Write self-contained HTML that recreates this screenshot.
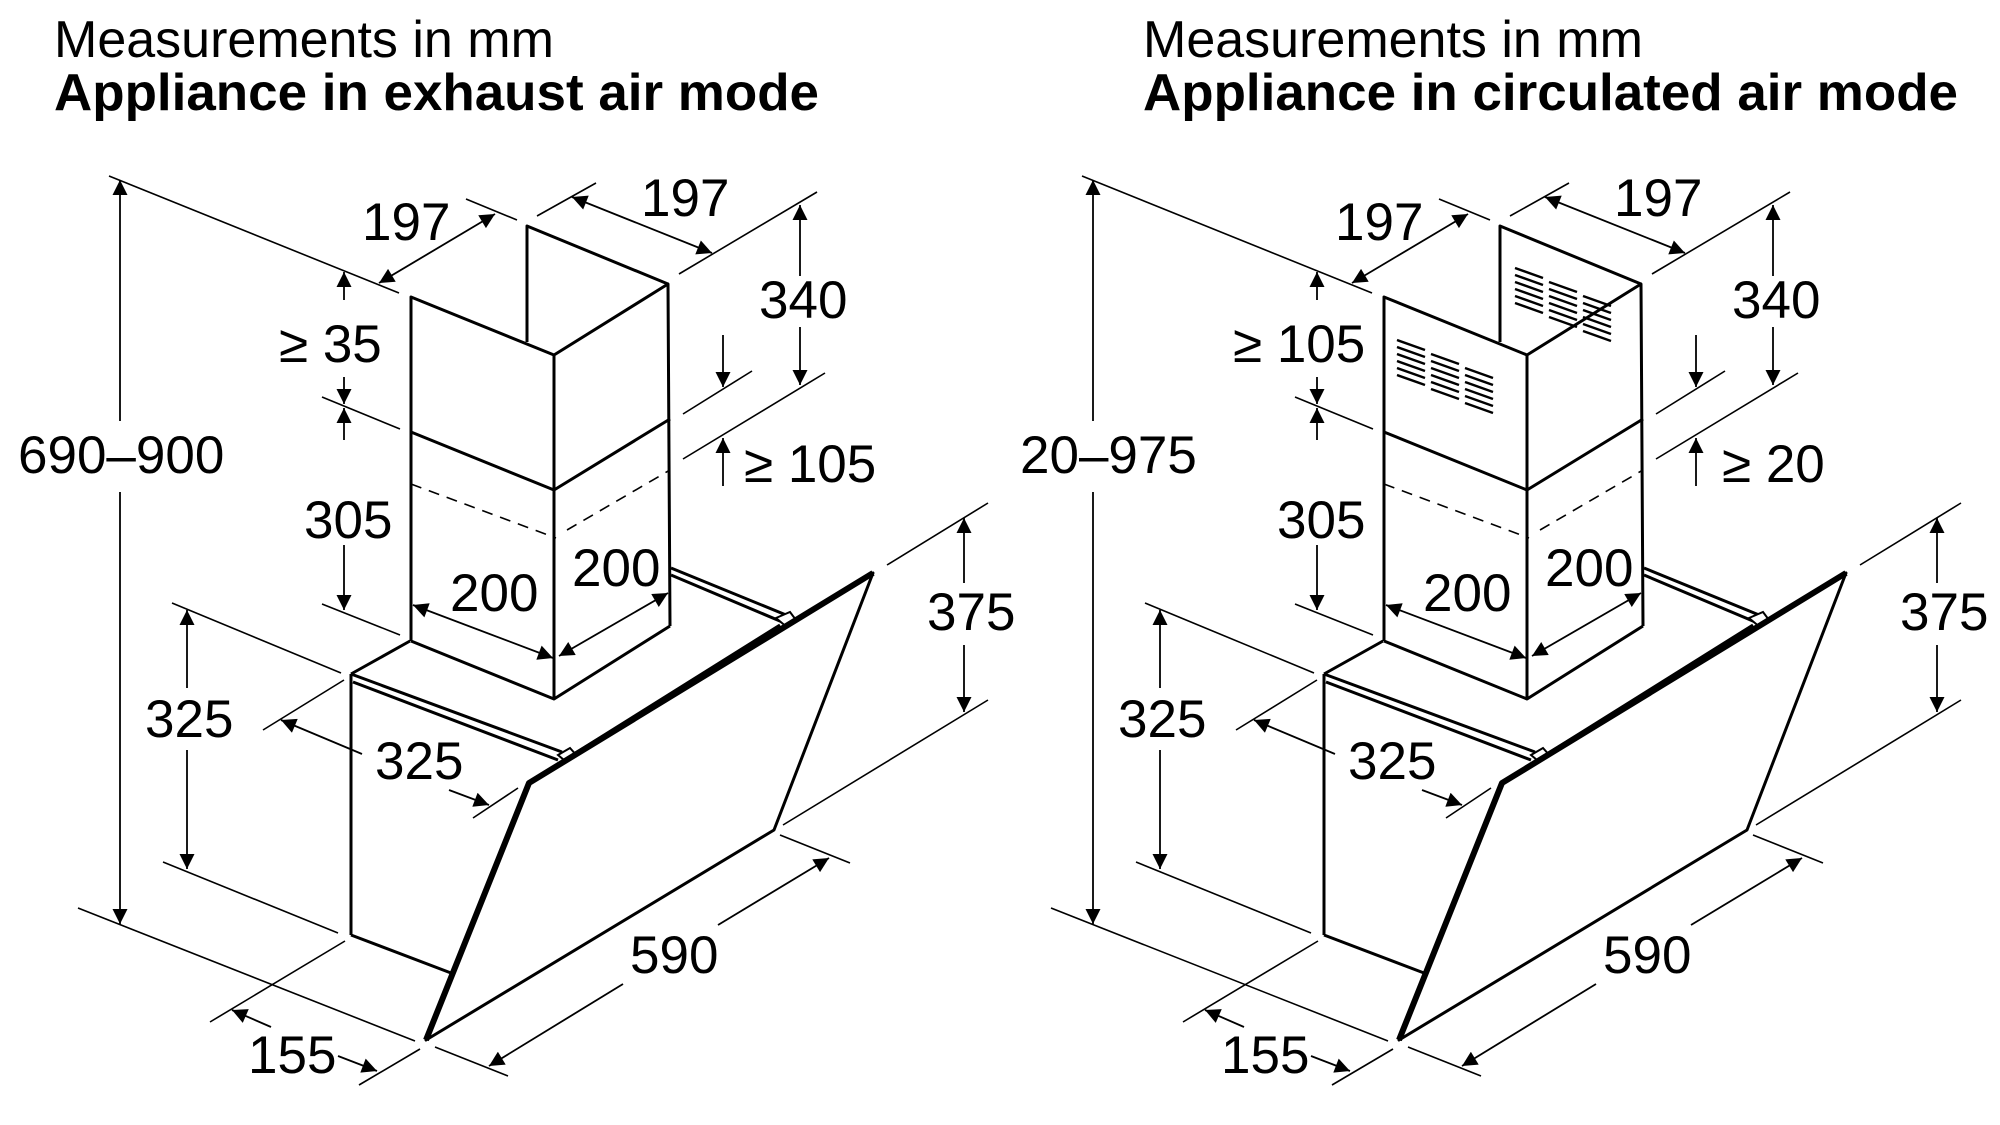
<!DOCTYPE html>
<html><head><meta charset="utf-8"><style>
html,body{margin:0;padding:0;background:#fff;}
svg{display:block;}
text{font-family:"Liberation Sans",Arial,sans-serif;fill:#000;}
</style></head><body>
<svg width="2000" height="1125" viewBox="0 0 2000 1125" xmlns="http://www.w3.org/2000/svg">
<defs>
<marker id="a" viewBox="0 0 10 10" refX="10" refY="5" markerWidth="30" markerHeight="15" markerUnits="userSpaceOnUse" orient="auto-start-reverse"><path d="M0,0 L10,5 L0,10z" fill="#000"/></marker>
<g id="base">
 <g stroke="#000" stroke-width="1.6" fill="none">
  <line x1="109" y1="176" x2="399" y2="293"/>
  <line x1="78" y1="908" x2="415" y2="1041"/>
  <line x1="466" y1="199" x2="517" y2="220"/>
  <line x1="537" y1="216" x2="596" y2="183"/>
  <line x1="679" y1="274" x2="817" y2="192"/>
  <line x1="683" y1="459" x2="825" y2="373"/>
  <line x1="683" y1="414" x2="752" y2="371"/>
  <line x1="322" y1="397" x2="400" y2="429"/>
  <line x1="322" y1="604" x2="400" y2="635"/>
  <line x1="887" y1="565" x2="988" y2="503"/>
  <line x1="783" y1="825" x2="988" y2="700"/>
  <line x1="172" y1="603" x2="341" y2="673"/>
  <line x1="163" y1="862" x2="338" y2="933"/>
  <line x1="263" y1="730" x2="344" y2="680"/>
  <line x1="473" y1="818" x2="518" y2="788"/>
  <line x1="780" y1="835" x2="850" y2="863"/>
  <line x1="435" y1="1047" x2="508" y2="1076"/>
  <line x1="210" y1="1022" x2="345" y2="941"/>
  <line x1="359" y1="1085" x2="420" y2="1049"/>
 </g>
 <g stroke="#000" stroke-width="1.8" fill="none" marker-end="url(#a)">
  <line x1="120" y1="421" x2="120" y2="180"/>
  <line x1="120" y1="492" x2="120" y2="924"/>
  <line x1="800" y1="276" x2="800" y2="205"/>
  <line x1="800" y1="327" x2="800" y2="385"/>
  <line x1="723" y1="335" x2="723" y2="387"/>
  <line x1="723" y1="486" x2="723" y2="438"/>
  <line x1="344" y1="300" x2="344" y2="272"/>
  <line x1="344" y1="377" x2="344" y2="404"/>
  <line x1="344" y1="440" x2="344" y2="408"/>
  <line x1="344" y1="545" x2="344" y2="610"/>
  <line x1="964" y1="583" x2="964" y2="518"/>
  <line x1="964" y1="645" x2="964" y2="712"/>
  <line x1="187" y1="688" x2="187" y2="610"/>
  <line x1="187" y1="750" x2="187" y2="869"/>
  <line x1="362" y1="754" x2="281" y2="720"/>
  <line x1="449" y1="790" x2="489" y2="805"/>
  <line x1="623" y1="984" x2="489" y2="1066"/>
  <line x1="718" y1="925" x2="829" y2="858"/>
  <line x1="271" y1="1027" x2="232" y2="1010"/>
  <line x1="338" y1="1056" x2="377" y2="1071"/>
 </g>
 <g stroke="#000" stroke-width="1.8" fill="none" marker-start="url(#a)" marker-end="url(#a)">
  <line x1="379" y1="283" x2="495" y2="214"/>
  <line x1="572" y1="197" x2="712" y2="253"/>
  <line x1="413" y1="605" x2="553" y2="658"/>
  <line x1="559" y1="656" x2="668" y2="593"/>
 </g>
 <g stroke="#000" stroke-width="3" fill="none" stroke-linejoin="round">
  <polyline points="527,342 527,226 668,284"/>
  <polyline points="411,641 411,297 554,355 668,284 670,626"/>
  <line x1="554" y1="355" x2="554" y2="699"/>
  <polyline points="411,432 554,490 670,419"/>
  <polyline points="411,641 554,699 670,626"/>
 </g>
 <g stroke="#000" stroke-width="1.6" stroke-dasharray="11 8" fill="none">
  <line x1="411" y1="484" x2="556" y2="538"/>
  <line x1="567" y1="530" x2="670" y2="470"/>
 </g>
 <g stroke="#000" stroke-width="3" fill="none" stroke-linejoin="round">
  <line x1="410" y1="641" x2="351" y2="674"/>
  <line x1="351" y1="674" x2="562" y2="752"/>
  <line x1="353" y1="682" x2="558" y2="760"/>
  <line x1="351" y1="674" x2="351" y2="935"/>
  <line x1="351" y1="935" x2="451" y2="973"/>
  <line x1="671" y1="568" x2="791" y2="617"/>
  <line x1="671" y1="575" x2="787" y2="624"/>
  <line x1="550" y1="769" x2="780" y2="625"/>
 </g>
 <path d="M776,618 l14,-6 l6,8 l-8,8 z M558,755 l12,-7 l8,9 l-8,8z" fill="#fff" stroke="#000" stroke-width="2"/>
 <polygon points="529,783 873,573 774,830 426,1040" fill="#fff" stroke="#000" stroke-width="3" stroke-linejoin="round"/>
 <polyline points="426,1040 529,783 873,573" fill="none" stroke="#000" stroke-width="6" stroke-linejoin="round"/>
 <g font-size="53">
  <text x="362" y="240">197</text>
  <text x="641" y="216">197</text>
  <text x="759" y="318">340</text>
  <text x="304" y="538">305</text>
  <text x="450" y="611">200</text>
  <text x="572" y="586">200</text>
  <text x="927" y="630">375</text>
  <text x="145" y="737">325</text>
  <text x="375" y="779">325</text>
  <text x="630" y="973">590</text>
  <text x="248" y="1073">155</text>
 </g>
</g>
</defs>

<text x="54" y="57" font-size="52">Measurements in mm</text>
<text x="54" y="110" font-size="52" font-weight="bold" textLength="765" lengthAdjust="spacingAndGlyphs">Appliance in exhaust air mode</text>
<text x="1143" y="57" font-size="52">Measurements in mm</text>
<text x="1143" y="110" font-size="52" font-weight="bold" textLength="815" lengthAdjust="spacingAndGlyphs">Appliance in circulated air mode</text>

<use href="#base" x="0" y="0"/>
<g font-size="53">
 <text x="18" y="473">690–900</text>
 <text x="279" y="362">≥ 35</text>
 <text x="744" y="482">≥ 105</text>
</g>

<g transform="translate(973,0)">
 <use href="#base"/>
 <g font-size="53">
  <text x="47" y="473">20–975</text>
  <text x="260" y="362">≥ 105</text>
  <text x="749" y="482">≥ 20</text>
 </g>
 <g stroke="#000" stroke-width="2.5">
  <g id="col">
   <line x1="424" y1="340" x2="452" y2="350"/>
   <line x1="424" y1="347" x2="452" y2="357"/>
   <line x1="424" y1="354" x2="452" y2="364"/>
   <line x1="424" y1="361" x2="452" y2="371"/>
   <line x1="424" y1="368" x2="452" y2="378"/>
   <line x1="424" y1="375" x2="452" y2="385"/>
  </g>
  <use href="#col" x="34" y="14"/>
  <use href="#col" x="68" y="28"/>
  <use href="#col" x="118" y="-72"/>
  <use href="#col" x="152" y="-58"/>
  <use href="#col" x="186" y="-44"/>
 </g>
</g>
</svg>
</body></html>
